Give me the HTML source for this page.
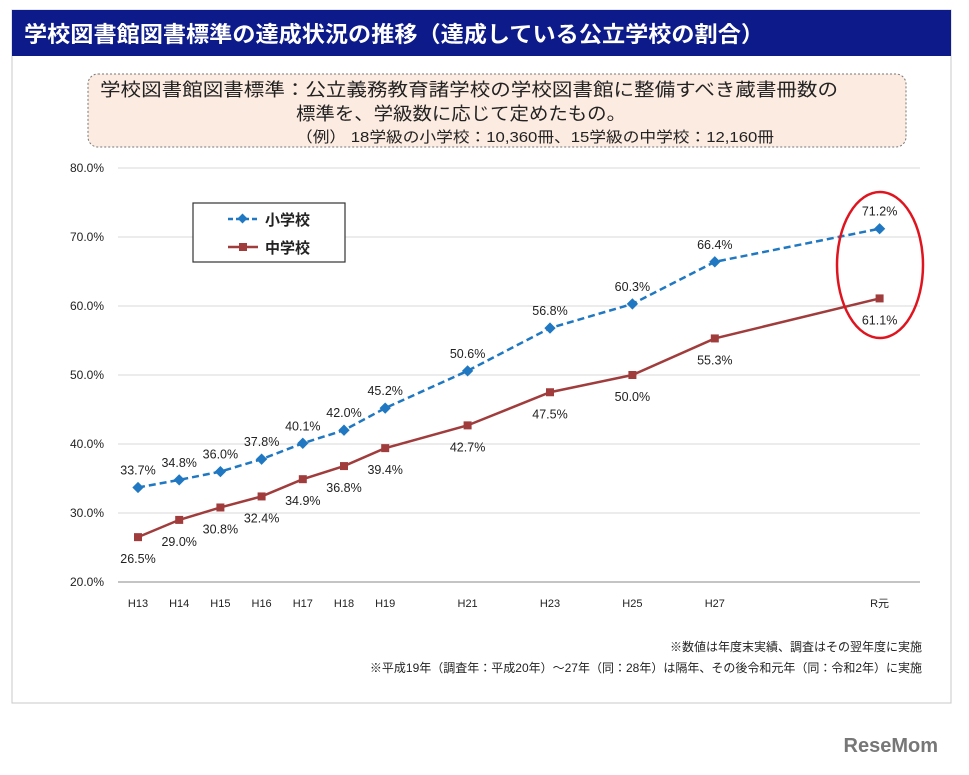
<!DOCTYPE html>
<html><head><meta charset="utf-8"><style>
body{margin:0;background:#fff;width:969px;height:770px;overflow:hidden;font-family:"Liberation Sans","Noto Sans CJK JP",sans-serif;}
</style></head><body>
<svg width="969" height="770" xmlns="http://www.w3.org/2000/svg" font-family="Liberation Sans, Noto Sans CJK JP, sans-serif">
<rect x="12" y="10" width="939" height="693" fill="#fff" stroke="#c8c8c8"/>
<rect x="12" y="10" width="939" height="46" fill="#0d1a8a"/>
<text x="24" y="42" fill="#fff" font-size="22" font-weight="bold" textLength="740" lengthAdjust="spacingAndGlyphs">学校図書館図書標準の達成状況の推移（達成している公立学校の割合）</text>
<rect x="88" y="74" width="818" height="73" rx="10" fill="#fcebe0" stroke="#777" stroke-dasharray="2,2"/>
<text x="100" y="96" font-size="18" fill="#222" textLength="738" lengthAdjust="spacingAndGlyphs">学校図書館図書標準：公立義務教育諸学校の学校図書館に整備すべき蔵書冊数の</text>
<text x="296" y="120" font-size="18" fill="#222" textLength="330" lengthAdjust="spacingAndGlyphs">標準を、学級数に応じて定めたもの。</text>
<text x="296" y="142" font-size="15" fill="#222" textLength="478" lengthAdjust="spacingAndGlyphs">（例）  18学級の小学校：10,360冊、15学級の中学校：12,160冊</text>
<g id="grid"></g><g id="marks"></g>
<g>
<rect x="193" y="203" width="152" height="59" fill="#fff" stroke="#333" stroke-width="1.2"/>
<line x1="228" y1="219" x2="258" y2="219" stroke="#1f78c1" stroke-width="2.5" stroke-dasharray="5,3"/>
<rect x="239" y="215" width="7" height="7" fill="#1f78c1" transform="rotate(45 242.5 218.5)"/>
<text x="265" y="225" font-size="15" font-weight="bold" fill="#222">小学校</text>
<line x1="228" y1="247" x2="258" y2="247" stroke="#a03c3c" stroke-width="2.5"/>
<rect x="239" y="243" width="8" height="8" fill="#a03c3c"/>
<text x="265" y="253" font-size="15" font-weight="bold" fill="#222">中学校</text>
</g>
<ellipse cx="880" cy="265" rx="43" ry="73" fill="none" stroke="#e0141e" stroke-width="2.5"/>
<text x="922" y="651" font-size="12" text-anchor="end" fill="#222">※数値は年度末実績、調査はその翌年度に実施</text>
<text x="922" y="672" font-size="12" text-anchor="end" fill="#222">※平成19年（調査年：平成20年）～27年（同：28年）は隔年、その後令和元年（同：令和2年）に実施</text>
<text x="938" y="752" font-size="20" font-weight="bold" fill="#777" text-anchor="end">ReseMom</text>
</svg>
<script>
const categories=["H13","H14","H15","H16","H17","H18","H19","H21","H23","H25","H27","R元"];
const years=[13,14,15,16,17,18,19,21,23,25,27,31];
const elementary=[33.7,34.8,36.0,37.8,40.1,42.0,45.2,50.6,56.8,60.3,66.4,71.2];
const juniorHigh=[26.5,29.0,30.8,32.4,34.9,36.8,39.4,42.7,47.5,50.0,55.3,61.1];
const yTicks=[20,30,40,50,60,70,80];
const NS="http://www.w3.org/2000/svg";
const X=y=>138+(y-13)*41.2;
const Y=v=>582-(v-20)*6.9;
function mk(tag,attrs,parent){const e=document.createElementNS(NS,tag);for(const k in attrs)e.setAttribute(k,attrs[k]);parent.appendChild(e);return e;}
const grid=document.getElementById('grid'),marks=document.getElementById('marks');
yTicks.forEach(t=>{
 const l=mk('line',{x1:118,x2:920,y1:Y(t),y2:Y(t),stroke:t===20?'#888':'#d9d9d9'},grid);
 
 
 const tx=mk('text',{x:104,y:Y(t)+4,'font-size':12,'text-anchor':'end',fill:'#222'},grid);tx.textContent=t.toFixed(1)+'%';
 
 
});
categories.forEach((c,i)=>{
 const tx=mk('text',{x:X(years[i]),y:607,'font-size':11,'text-anchor':'middle',fill:'#222'},grid);tx.textContent=c;
 
 
});
const pe=mk('polyline',{points:elementary.map((v,i)=>X(years[i])+','+Y(v)).join(' '),fill:'none',stroke:'#1f78c1','stroke-width':2.5,'stroke-dasharray':'7,4'},marks);


const pj=mk('polyline',{points:juniorHigh.map((v,i)=>X(years[i])+','+Y(v)).join(' '),fill:'none',stroke:'#a03c3c','stroke-width':2.5},marks);


elementary.forEach((v,i)=>{
 const x=X(years[i]),y=Y(v);
 const m=mk('rect',{x:x-4,y:y-4,width:8,height:8,fill:'#1f78c1',transform:`rotate(45 ${x} ${y})`},marks);
 
 
 const t=mk('text',{x:x,y:y-13,'font-size':12.5,'text-anchor':'middle',fill:'#222'},marks);t.textContent=v.toFixed(1)+'%';
 
 
});
juniorHigh.forEach((v,i)=>{
 const x=X(years[i]),y=Y(v);
 const m=mk('rect',{x:x-4,y:y-4,width:8,height:8,fill:'#a03c3c'},marks);
 
 
 const t=mk('text',{x:x,y:y+26,'font-size':12.5,'text-anchor':'middle',fill:'#222'},marks);t.textContent=v.toFixed(1)+'%';
 
 
});
</script>
</body></html>
